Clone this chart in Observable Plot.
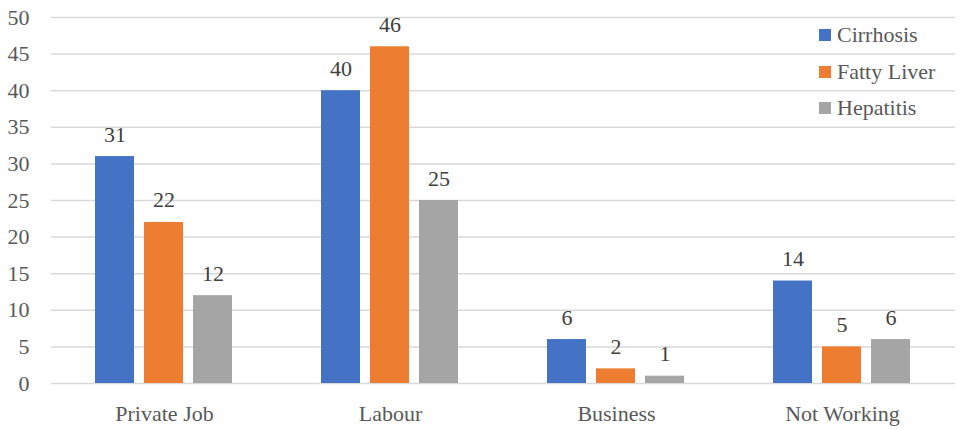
<!DOCTYPE html>
<html>
<head>
<meta charset="utf-8">
<script src="https://cdn.jsdelivr.net/npm/d3@7"></script>
<script src="https://cdn.jsdelivr.net/npm/@observablehq/plot@0.6"></script>
<style>
  html, body { margin: 0; padding: 0; background: #fff; }
  #wrap { position: relative; width: 975px; height: 430px; }
  #wrap svg text { font-family: "Liberation Serif", "Times New Roman", "Liberation Sans", sans-serif; }
  #legend { position: absolute; left: 819px; top: 17px; font-family: "Liberation Serif", "Times New Roman", "Liberation Sans", sans-serif; font-size: 22px; color: #595959; }
  #legend .item { display: flex; align-items: center; height: 36.6px; }
  #legend .sw { width: 12px; height: 12px; margin-right: 6px; flex: none; }
</style>
</head>
<body>
<div id="wrap"><div id="legend"></div></div>
<script>
const categories = ["Private Job", "Labour", "Business", "Not Working"];
const series = ["Cirrhosis", "Fatty Liver", "Hepatitis"];
const cirrhosis = [31, 40, 6, 14];
const fattyLiver = [22, 46, 2, 5];
const hepatitis = [12, 25, 1, 6];
const colors = ["#4472C4", "#ED7D31", "#A5A5A5"];
const yTicks = [0, 5, 10, 15, 20, 25, 30, 35, 40, 45, 50];

const valuesBySeries = [cirrhosis, fattyLiver, hepatitis];
const data = [];
categories.forEach((c, i) => {
  series.forEach((s, j) => data.push({category: c, series: s, value: valuesBySeries[j][i]}));
});

const chart = Plot.plot({
  width: 975,
  height: 430,
  marginLeft: 49,
  marginRight: 19,
  marginTop: 17,
  marginBottom: 47,
  style: {fontSize: "22px", background: "#fff"},
  fx: {domain: categories, padding: 0, label: null},
  x: {domain: series, paddingInner: 0.2, paddingOuter: 0.865, axis: null},
  y: {domain: [0, 50], label: null},
  color: {domain: series, range: colors},
  marks: [
    Plot.gridY(yTicks, {stroke: "#d9d9d9", strokeOpacity: 1, strokeWidth: 1.5}),
    Plot.axisY(yTicks, {tickSize: 0, tickPadding: 22, fill: "#595959", fontSize: 22, label: null}),
    Plot.axisFx({anchor: "bottom", tickSize: 0, tickPadding: 22, fill: "#595959", fontSize: 22, label: null}),
    Plot.barY(data, {fx: "category", x: "series", y: "value", fill: "series"}),
    Plot.text(data, {fx: "category", x: "series", y: "value", text: d => String(d.value), dy: -15, lineAnchor: "bottom", fill: "#404040", fontSize: 22})
  ]
});
document.getElementById("wrap").prepend(chart);

const legend = document.getElementById("legend");
series.forEach((s, j) => {
  const item = document.createElement("div");
  item.className = "item";
  const sw = document.createElement("div");
  sw.className = "sw";
  sw.style.background = colors[j];
  const label = document.createElement("span");
  label.textContent = s;
  item.append(sw, label);
  legend.append(item);
});
</script>
</body>
</html>
